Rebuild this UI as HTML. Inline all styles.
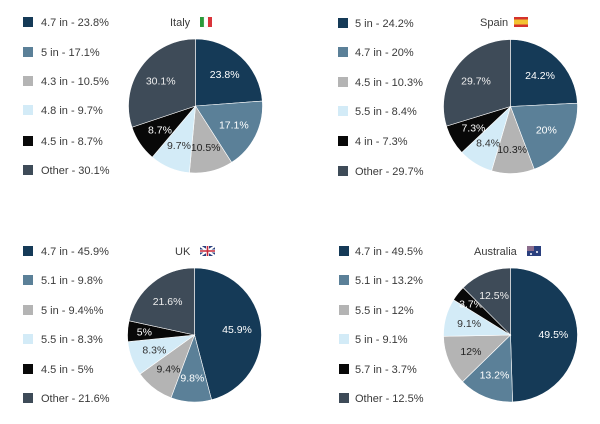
<!DOCTYPE html>
<html><head><meta charset="utf-8"><style>
html,body{margin:0;padding:0;background:#fff;}
svg{display:block;font-family:"Liberation Sans",sans-serif;}
</style></head><body>
<svg id="s" width="600" height="424" viewBox="0 0 600 424" xmlns="http://www.w3.org/2000/svg"></svg>
<script>
const C=['#153a57','#5b8098','#b4b4b4','#d3ebf7','#080808','#3e4b58'];
const LC=['#fff','#fff','#222','#333','#fff','#eee'];
const charts=[
 {cx:195.5,cy:106,lx:23,tx:41,rows:[22,52,81,110,141,170],title:'Italy',tX:170,tY:22,flag:'it',fX:200,
  lab:['4.7 in - 23.8%','5 in - 17.1%','4.3 in - 10.5%','4.8 in - 9.7%','4.5 in - 8.7%','Other - 30.1%'],v:[23.8,17.1,10.5,9.7,8.7,30.1]},
 {cx:510.5,cy:106.5,lx:338,tx:355,rows:[23,52,82,111,141,171],title:'Spain',tX:480,tY:22,flag:'es',fX:514,
  lab:['5 in - 24.2%','4.7 in - 20%','4.5 in - 10.3%','5.5 in - 8.4%','4 in - 7.3%','Other - 29.7%'],v:[24.2,20,10.3,8.4,7.3,29.7]},
 {cx:194.5,cy:335,lx:23,tx:41,rows:[251,280,310,339,369,398],title:'UK',tX:175,tY:251,flag:'uk',fX:200,
  lab:['4.7 in - 45.9%','5.1 in - 9.8%','5 in - 9.4%%','5.5 in - 8.3%','4.5 in - 5%','Other - 21.6%'],v:[45.9,9.8,9.4,8.3,5,21.6]},
 {cx:510.5,cy:335,lx:339,tx:355,rows:[251,280,310,339,369,398],title:'Australia',tX:474,tY:251,flag:'au',fX:527,
  lab:['4.7 in - 49.5%','5.1 in - 13.2%','5.5 in - 12%','5 in - 9.1%','5.7 in - 3.7%','Other - 12.5%'],v:[49.5,13.2,12,9.1,3.7,12.5]}
];
let h='';const r=67;
for(const c of charts){
 const tot=c.v.reduce((a,b)=>a+b,0);let a0=-Math.PI/2;
 c.v.forEach((v,i)=>{
  const a1=a0+v/tot*2*Math.PI;
  const x0=c.cx+r*Math.cos(a0),y0=c.cy+r*Math.sin(a0),x1=c.cx+r*Math.cos(a1),y1=c.cy+r*Math.sin(a1);
  h+=`<path d="M${c.cx},${c.cy}L${x0},${y0}A${r},${r} 0 ${a1-a0>Math.PI?1:0} 1 ${x1},${y1}Z" fill="${C[i]}" stroke="#fff" stroke-width="0.6"/>`;
  const am=(a0+a1)/2, rr=v<6?0.75*r:0.64*r;
  h+=`<text x="${c.cx+rr*Math.cos(am)}" y="${c.cy+rr*Math.sin(am)+3.5}" font-size="10.5" text-anchor="middle" fill="${LC[i]}">${v}%</text>`;
  a0=a1;
  h+=`<rect x="${c.lx}" y="${c.rows[i]-5}" width="10" height="10" fill="${C[i]}"/>`;
  h+=`<text x="${c.tx}" y="${c.rows[i]+4}" font-size="11" fill="#3a3a3a">${c.lab[i]}</text>`;
 });
 h+=`<text x="${c.tX}" y="${c.tY+4}" font-size="11" fill="#3a3a3a">${c.title}</text>`;
 const fx=c.fX,fy=c.tY-5;
 if(c.flag=='it')h+=`<rect x="${fx}" y="${fy}" width="4" height="10" fill="#2a9a3a"/><rect x="${fx+4}" y="${fy}" width="4" height="10" fill="#fff" stroke="#ddd" stroke-width=".3"/><rect x="${fx+8}" y="${fy}" width="4" height="10" fill="#d9343a"/>`;
 if(c.flag=='es')h+=`<rect x="${fx}" y="${fy}" width="14" height="10" fill="#d4322c"/><rect x="${fx}" y="${fy+2.5}" width="14" height="5" fill="#f3c232"/>`;
 if(c.flag=='uk')h+=`<rect x="${fx}" y="${fy}" width="15" height="10" fill="#2a3f7e"/><path d="M${fx},${fy}L${fx+15},${fy+10}M${fx+15},${fy}L${fx},${fy+10}" stroke="#fff" stroke-width="2"/><path d="M${fx+7.5},${fy}V${fy+10}M${fx},${fy+5}H${fx+15}" stroke="#fff" stroke-width="3"/><path d="M${fx+7.5},${fy}V${fy+10}M${fx},${fy+5}H${fx+15}" stroke="#c8283a" stroke-width="1.6"/>`;
 if(c.flag=='au')h+=`<rect x="${fx}" y="${fy}" width="14" height="10" fill="#2a3f7e"/><rect x="${fx}" y="${fy}" width="7" height="5" fill="#8a6c8c"/><circle cx="${fx+10}" cy="${fy+6}" r="1" fill="#fff"/><circle cx="${fx+4}" cy="${fy+8}" r="1" fill="#fff"/>`;
}
document.getElementById('s').innerHTML=h;
</script>
</body></html>
